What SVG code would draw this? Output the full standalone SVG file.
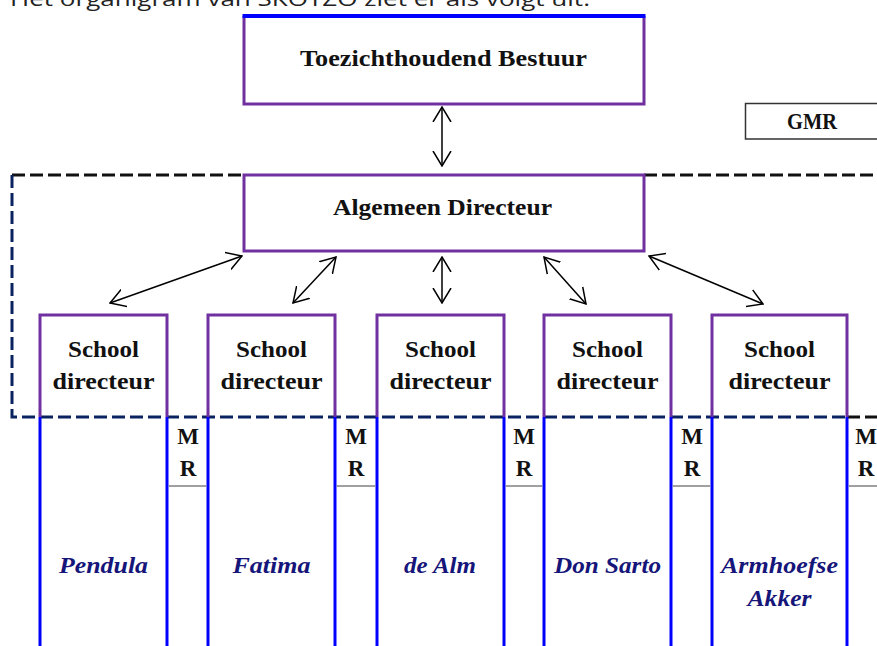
<svg xmlns="http://www.w3.org/2000/svg" width="877" height="646" viewBox="0 0 877 646">
<defs>
<marker id="ah" viewBox="0 0 16 20" refX="15" refY="10" markerWidth="16" markerHeight="20" markerUnits="userSpaceOnUse" orient="auto-start-reverse">
<path d="M0,1 L15,10 L0,19" fill="none" stroke="#000" stroke-width="1.5"/>
</marker>
</defs>
<style>
.b{font-family:"Liberation Serif","DejaVu Serif",serif;font-weight:bold;fill:#111;}
.n{font-family:"Liberation Serif","DejaVu Serif",serif;font-weight:bold;font-style:italic;fill:#15157a;font-size:24px;}
.p{fill:none;stroke:#7030a0;stroke-width:3;}
.bl{fill:none;stroke:#0000ff;stroke-width:3;}
.c{fill:none;stroke:#000;stroke-width:1.5;marker-start:url(#ah);marker-end:url(#ah);}
.mr{stroke:#808080;stroke-width:1.5;}
</style>
<rect width="877" height="646" fill="#fff"/>
<text x="10" y="6" font-family="Open Sans, Liberation Sans, sans-serif" font-size="20" fill="#222" textLength="580" lengthAdjust="spacingAndGlyphs">Het organigram van SKOTZO ziet er als volgt uit.</text>

<g id="toezicht">
<path class="p" d="M244,16 V104 H644 V16"/>
<line x1="242.5" y1="16" x2="645.5" y2="16" stroke="#0000ff" stroke-width="4"/>
<text class="b" x="443.5" y="66" font-size="23" text-anchor="middle" textLength="287" lengthAdjust="spacingAndGlyphs">Toezichthoudend Bestuur</text>
</g>

<g id="gmr">
<path d="M877,103.5 H745.5 V139 H877" fill="none" stroke="#333" stroke-width="1.5"/>
<text class="b" x="812" y="129" font-size="23" text-anchor="middle" textLength="50" lengthAdjust="spacingAndGlyphs">GMR</text>
</g>

<g id="kader">
<path d="M12,175 H243 M644,175 H877" fill="none" stroke="#111" stroke-width="3" stroke-dasharray="13,5"/>
<path d="M12,175 V417 H847" fill="none" stroke="#0a2260" stroke-width="3" stroke-dasharray="13,5"/>
<path d="M847,417 H877" fill="none" stroke="#111" stroke-width="3" stroke-dasharray="13,5"/>
</g>

<g id="algemeen">
<rect class="p" x="244" y="175" width="400" height="76"/>
<text class="b" x="442.5" y="215" font-size="23" text-anchor="middle" textLength="219" lengthAdjust="spacingAndGlyphs">Algemeen Directeur</text>
</g>

<g id="school1">
<path class="p" d="M40,417 V315 H167 V417"/>
<path class="bl" d="M40,417 V646 M167,417 V646"/>
<text class="b" x="103.5" y="357" font-size="24" text-anchor="middle" textLength="71" lengthAdjust="spacingAndGlyphs">School</text>
<text class="b" x="103.5" y="389" font-size="24" text-anchor="middle" textLength="102" lengthAdjust="spacingAndGlyphs">directeur</text>
<text class="n" x="103.5" y="573" text-anchor="middle" textLength="89" lengthAdjust="spacingAndGlyphs">Pendula</text>
</g>
<g id="school2">
<path class="p" d="M208,417 V315 H335 V417"/>
<path class="bl" d="M208,417 V646 M335,417 V646"/>
<text class="b" x="271.5" y="357" font-size="24" text-anchor="middle" textLength="71" lengthAdjust="spacingAndGlyphs">School</text>
<text class="b" x="271.5" y="389" font-size="24" text-anchor="middle" textLength="102" lengthAdjust="spacingAndGlyphs">directeur</text>
<text class="n" x="271.5" y="573" text-anchor="middle" textLength="78" lengthAdjust="spacingAndGlyphs">Fatima</text>
</g>
<g id="school3">
<path class="p" d="M377,417 V315 H504 V417"/>
<path class="bl" d="M377,417 V646 M504,417 V646"/>
<text class="b" x="440.5" y="357" font-size="24" text-anchor="middle" textLength="71" lengthAdjust="spacingAndGlyphs">School</text>
<text class="b" x="440.5" y="389" font-size="24" text-anchor="middle" textLength="102" lengthAdjust="spacingAndGlyphs">directeur</text>
<text class="n" x="440" y="573" text-anchor="middle" textLength="72" lengthAdjust="spacingAndGlyphs">de Alm</text>
</g>
<g id="school4">
<path class="p" d="M544,417 V315 H671 V417"/>
<path class="bl" d="M544,417 V646 M671,417 V646"/>
<text class="b" x="607.5" y="357" font-size="24" text-anchor="middle" textLength="71" lengthAdjust="spacingAndGlyphs">School</text>
<text class="b" x="607.5" y="389" font-size="24" text-anchor="middle" textLength="102" lengthAdjust="spacingAndGlyphs">directeur</text>
<text class="n" x="607.5" y="573" text-anchor="middle" textLength="107" lengthAdjust="spacingAndGlyphs">Don Sarto</text>
</g>
<g id="school5">
<path class="p" d="M712,417 V315 H847 V417"/>
<path class="bl" d="M712,417 V646 M847,417 V646"/>
<text class="b" x="779.5" y="357" font-size="24" text-anchor="middle" textLength="71" lengthAdjust="spacingAndGlyphs">School</text>
<text class="b" x="779.5" y="389" font-size="24" text-anchor="middle" textLength="102" lengthAdjust="spacingAndGlyphs">directeur</text>
<text class="n" x="779.5" y="573" text-anchor="middle" textLength="117" lengthAdjust="spacingAndGlyphs">Armhoefse</text>
<text class="n" x="779.5" y="606" text-anchor="middle" textLength="64" lengthAdjust="spacingAndGlyphs">Akker</text>
</g>

<g id="mr">
<line class="mr" x1="168.5" y1="486" x2="206.5" y2="486"/>
<line class="mr" x1="336.5" y1="486" x2="375.5" y2="486"/>
<line class="mr" x1="505.5" y1="486" x2="542.5" y2="486"/>
<line class="mr" x1="672.5" y1="486" x2="710.5" y2="486"/>
<line class="mr" x1="848.5" y1="486" x2="877" y2="486"/>
<g class="b" font-size="23" text-anchor="middle">
<text x="188" y="444">M</text><text x="188" y="476">R</text>
<text x="356" y="444">M</text><text x="356" y="476">R</text>
<text x="524" y="444">M</text><text x="524" y="476">R</text>
<text x="692" y="444">M</text><text x="692" y="476">R</text>
<text x="866" y="444">M</text><text x="866" y="476">R</text>
</g>
</g>

<g id="connectors">
<line class="c" x1="442" y1="107" x2="442" y2="166"/>
<line class="c" x1="242" y1="256" x2="110" y2="303"/>
<line class="c" x1="336" y1="257" x2="293" y2="303"/>
<line class="c" x1="442" y1="257" x2="442" y2="303"/>
<line class="c" x1="544" y1="257" x2="586" y2="304"/>
<line class="c" x1="649" y1="256" x2="763" y2="304"/>
</g>
</svg>
